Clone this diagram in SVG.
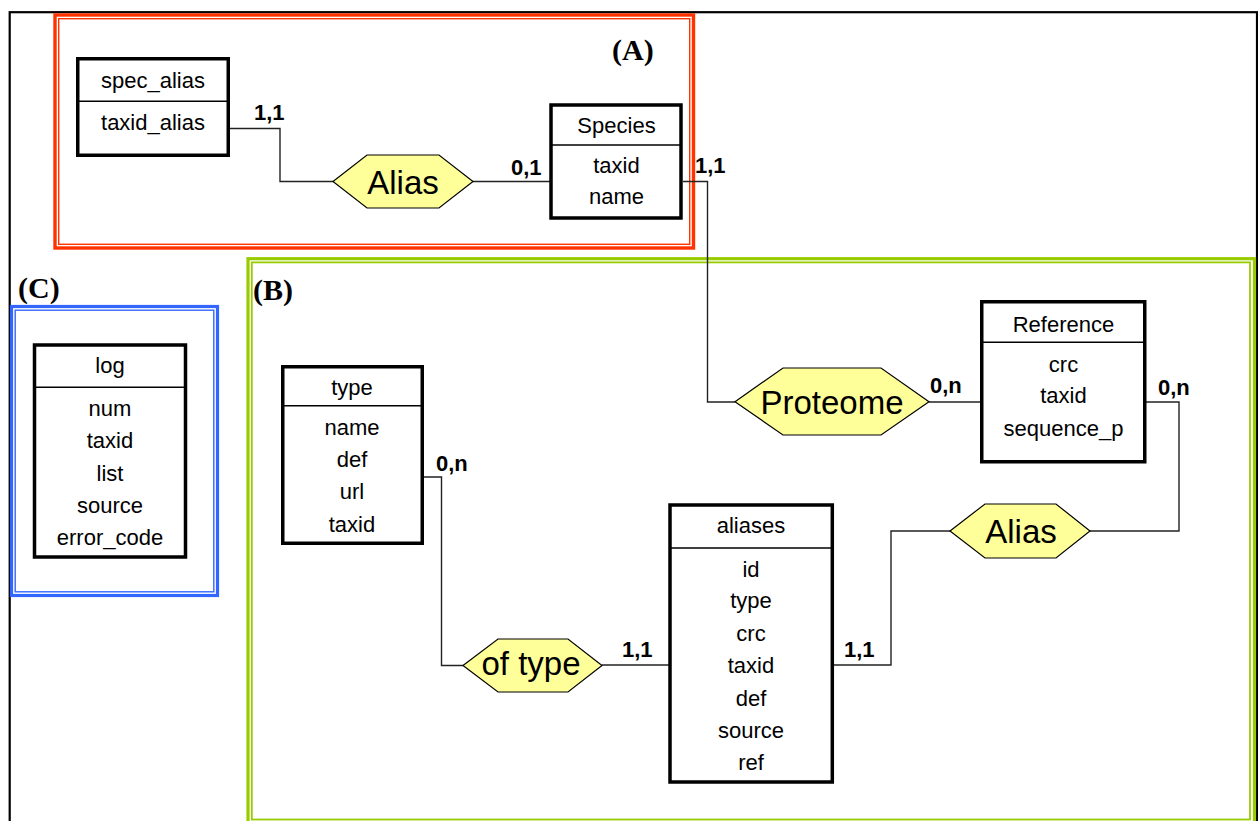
<svg xmlns="http://www.w3.org/2000/svg" width="1258" height="821" viewBox="0 0 1258 821">
<style>
.ent{fill:#ffffff;stroke:#000;stroke-width:3.5}
.div{stroke:#000;stroke-width:1.5}
.rel{fill:#ffff99;stroke:#000;stroke-width:1.2}
.conn{fill:none;stroke:#222;stroke-width:1.4}
.t{font-family:"Liberation Sans",Arial,sans-serif;font-size:22px;fill:#000;text-anchor:middle}
.h{font-family:"Liberation Sans",Arial,sans-serif;font-size:33px;fill:#000;text-anchor:middle}
.c{font-family:"Liberation Sans",Arial,sans-serif;font-size:22px;font-weight:bold;fill:#000}
.sec{font-family:"Liberation Serif","Times New Roman",serif;font-size:30px;font-weight:bold;fill:#000}
</style>
<rect width="1258" height="821" fill="#fff"/>
<rect x="9.7" y="12.2" width="1247.3" height="840" fill="none" stroke="#000" stroke-width="2.2"/>
<g id="frame-A">
<rect x="55" y="15" width="638.5" height="233" fill="none" stroke="#ff3300" stroke-width="3.4"/>
<rect x="58.7" y="18.7" width="631" height="225.6" fill="none" stroke="#ff3300" stroke-width="1.4"/>
<text class="sec" x="612" y="60">(A)</text>
</g>
<g id="frame-B">
<rect x="248" y="258.7" width="1006.5" height="570" fill="none" stroke="#99cc00" stroke-width="3.2"/>
<rect x="251.8" y="262.4" width="998.2" height="557.1" fill="none" stroke="#99cc00" stroke-width="1.8"/>
<text class="sec" x="253" y="300">(B)</text>
</g>
<g id="frame-C">
<rect x="11.5" y="306.5" width="206" height="289" fill="none" stroke="#3366ff" stroke-width="3.2"/>
<rect x="15.2" y="310.2" width="198.6" height="281.6" fill="none" stroke="#3366ff" stroke-width="1.4"/>
<text class="sec" x="18" y="298">(C)</text>
</g>
<g id="connectors">
<path class="conn" d="M230,128.5 H280 V181.5 H333"/>
<path class="conn" d="M473,181.5 H550"/>
<path class="conn" d="M683,181.5 H707.5 V402 H735"/>
<path class="conn" d="M929,402 H981"/>
<path class="conn" d="M1146,402 H1179 V531 H1090"/>
<path class="conn" d="M950,531 H891 V665 H834"/>
<path class="conn" d="M669,665 H602"/>
<path class="conn" d="M463,665.5 H441.5 V477 H424"/>
<text class="c" x="254" y="120">1,1</text>
<text class="c" x="511" y="175">0,1</text>
<text class="c" x="695" y="172.7">1,1</text>
<text class="c" x="930" y="393.3">0,n</text>
<text class="c" x="1158" y="395">0,n</text>
<text class="c" x="436" y="471">0,n</text>
<text class="c" x="622" y="657.3">1,1</text>
<text class="c" x="844" y="657.3">1,1</text>
</g>
<g id="spec_alias">
<rect class="ent" x="77.75" y="58.75" width="150.5" height="96.5"/>
<line class="div" x1="78" y1="101.3" x2="228" y2="101.3"/>
<text class="t" x="153" y="87.7">spec_alias</text>
<text class="t" x="153" y="130">taxid_alias</text>
</g>
<g id="Species">
<rect class="ent" x="551" y="105" width="130" height="113"/>
<line class="div" x1="551" y1="145" x2="681" y2="145"/>
<text class="t" x="616.5" y="133.3">Species</text>
<text class="t" x="616.5" y="173.3">taxid</text>
<text class="t" x="616.5" y="204.3">name</text>
</g>
<g id="rel-Alias-A">
<polygon class="rel" points="333,181.5 367,155 439,155 473,181.5 439,208 367,208"/>
<text class="h" x="403" y="194">Alias</text>
</g>
<g id="log">
<rect class="ent" x="34.5" y="345" width="151" height="212"/>
<line class="div" x1="35" y1="387.3" x2="185" y2="387.3"/>
<text class="t" x="110" y="373">log</text>
<text class="t" x="110" y="415.7">num</text>
<text class="t" x="110" y="448.3">taxid</text>
<text class="t" x="110" y="480.7">list</text>
<text class="t" x="110" y="512.7">source</text>
<text class="t" x="110" y="545">error_code</text>
</g>
<g id="type">
<rect class="ent" x="282.75" y="366.75" width="139.5" height="176.5"/>
<line class="div" x1="283" y1="405.7" x2="422" y2="405.7"/>
<text class="t" x="352" y="395">type</text>
<text class="t" x="352" y="435">name</text>
<text class="t" x="352" y="467">def</text>
<text class="t" x="352" y="499.3">url</text>
<text class="t" x="352" y="531.7">taxid</text>
</g>
<g id="Reference">
<rect class="ent" x="981.75" y="301.75" width="163" height="160"/>
<line class="div" x1="982" y1="342.3" x2="1144" y2="342.3"/>
<text class="t" x="1063.5" y="331.7">Reference</text>
<text class="t" x="1063.5" y="371.7">crc</text>
<text class="t" x="1063.5" y="403.3">taxid</text>
<text class="t" x="1063.5" y="436">sequence_p</text>
</g>
<g id="rel-Proteome">
<polygon class="rel" points="735,401.7 783,368 881,368 929,401.7 881,435 783,435"/>
<text class="h" x="832" y="413.5">Proteome</text>
</g>
<g id="aliases">
<rect class="ent" x="670" y="505" width="162.3" height="277"/>
<line class="div" x1="670" y1="548" x2="832" y2="548"/>
<text class="t" x="751" y="533.3">aliases</text>
<text class="t" x="751" y="576.7">id</text>
<text class="t" x="751" y="608.3">type</text>
<text class="t" x="751" y="640.7">crc</text>
<text class="t" x="751" y="673.3">taxid</text>
<text class="t" x="751" y="705.7">def</text>
<text class="t" x="751" y="738.3">source</text>
<text class="t" x="751" y="770">ref</text>
</g>
<g id="rel-Alias-B">
<polygon class="rel" points="950,531 985,504 1056,504 1090,531 1056,558 985,558"/>
<text class="h" x="1021" y="543.3">Alias</text>
</g>
<g id="rel-oftype">
<polygon class="rel" points="463,665.5 498,639 568,639 602,665.5 568,692 498,692"/>
<text class="h" x="531" y="675">of type</text>
</g>
</svg>
